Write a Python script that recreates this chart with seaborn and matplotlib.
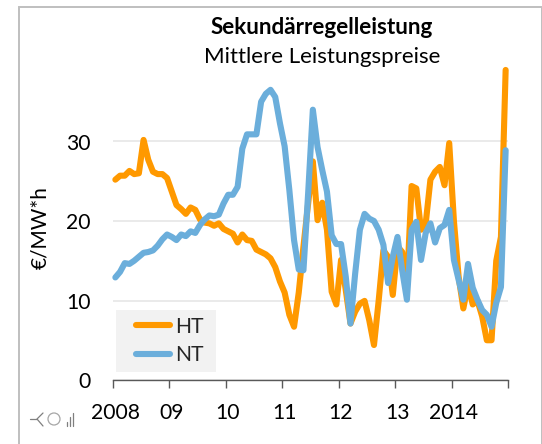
# -*- coding: utf-8 -*-
import numpy as np
import pandas as pd
import seaborn as sns
import matplotlib
matplotlib.use('Agg')
import matplotlib.pyplot as plt
from matplotlib.lines import Line2D
from matplotlib.patches import Circle, Rectangle
from matplotlib.transforms import ScaledTranslation

# Monatswerte 2008-2014
ht = [25.2, 25.7, 25.7, 26.3, 25.9, 26.0, 30.2, 27.7, 26.2, 25.9, 25.9, 25.4,
      23.7, 22.0, 21.5, 20.9, 21.7, 21.4, 20.2, 19.8, 19.7, 19.4, 19.7, 19.0,
      18.7, 18.4, 17.3, 18.3, 17.6, 17.5, 16.4, 16.1, 15.8, 15.3, 14.2, 12.4,
      11.0, 8.2, 6.7, 11.0, 16.8, 22.2, 27.5, 20.1, 22.3, 18.9, 11.1, 9.5,
      15.1, 11.3, 7.1, 8.6, 9.6, 9.95, 7.5, 4.4, 10.0, 16.3, 15.5, 10.7,
      16.8, 16.1, 11.7, 24.4, 24.1, 18.9, 19.7, 25.2, 26.2, 26.8, 24.5, 29.8,
      20.0, 13.0, 9.0, 12.0, 9.5, 10.0, 8.0, 5.0, 5.0, 15.0, 18.0, 39.0]
nt = [12.9, 13.6, 14.7, 14.6, 15.0, 15.5, 16.0, 16.1, 16.3, 16.9, 17.7, 18.3,
      18.0, 17.6, 18.3, 18.1, 18.7, 18.5, 19.5, 20.2, 20.7, 20.6, 20.8, 22.2,
      23.3, 23.3, 24.3, 29.1, 30.9, 30.9, 30.9, 35.0, 36.0, 36.5, 35.6, 32.3,
      29.4, 23.9, 17.6, 13.9, 13.8, 23.5, 34.0, 29.3, 26.4, 23.7, 18.2, 17.1,
      17.1, 13.0, 7.1, 13.4, 18.9, 20.9, 20.3, 20.0, 18.9, 17.0, 12.2, 15.5,
      18.0, 13.8, 10.1, 18.9, 19.9, 15.1, 18.5, 19.7, 17.3, 19.1, 19.5, 21.4,
      15.1, 12.6, 10.1, 14.6, 11.6, 10.1, 8.8, 8.2, 6.7, 9.7, 11.7, 28.9]
jahre = ['2008', '09', '10', '11', '12', '13', '2014', '']
y_ticks = [0, 10, 20, 30]

W, H = 542, 444
FS = 15.2


def fx(px):
    return px / W


def fy(py):
    return 1 - py / H


sns.set_theme(style='white')
plt.rcParams['font.family'] = ['Lato', 'DejaVu Sans']

meses = np.arange(len(ht))
df = pd.DataFrame({'mes': np.concatenate([meses, meses]),
                   'valor': ht + nt,
                   'serie': ['HT'] * len(ht) + ['NT'] * len(nt)})

fig = plt.figure(figsize=(W / 100, H / 100), dpi=100, facecolor='white')
ax = fig.add_axes([fx(113), fy(380), 395 / W, 318 / H])
ax.patch.set_alpha(0)

sns.lineplot(data=df, x='mes', y='valor', hue='serie', ax=ax, sort=False,
             palette={'HT': '#FF9900', 'NT': '#6BAEDB'}, linewidth=4.4,
             solid_capstyle='round', solid_joinstyle='round', clip_on=False)

ax.set_xlim(-0.5, 83.5)
ax.set_ylim(0, 40)
ax.set_xlabel('')
ax.set_ylabel('')

# Achsen
for s in ['top', 'right', 'left']:
    ax.spines[s].set_visible(False)
ax.spines['bottom'].set_color('#595959')
ax.spines['bottom'].set_linewidth(1)
ax.set_yticks(y_ticks)
ax.tick_params(axis='y', length=0, labelsize=FS, labelcolor='black', pad=16)
ax.grid(axis='y', color='#E6E6E6', linewidth=1.2)
ax.set_axisbelow(True)

x_ticks = np.arange(len(jahre)) * 12 - 0.5
ax.set_xticks(x_ticks)
ax.set_xticklabels(jahre)
ax.tick_params(axis='x', bottom=True, length=5.5, width=1, color='#595959',
               labelsize=FS, labelcolor='black', pad=11)
versatz = ScaledTranslation(2 / 100, 0, fig.dpi_scale_trans)
for lab in ax.get_xticklabels():
    lab.set_transform(lab.get_transform() + versatz)

# Legende: grauer Kasten und Eintraege ohne Rahmen
ax.add_patch(Rectangle((fx(116), fy(372)), 100 / W, 62 / H, facecolor='#F2F2F2',
                       edgecolor='none', transform=fig.transFigure, zorder=1.5))
ax.legend(loc='center left', bbox_to_anchor=(fx(136), fy(341)),
          bbox_transform=fig.transFigure, frameon=False, fontsize=FS,
          handlelength=1.6, handletextpad=0.25, labelspacing=0.4,
          borderpad=0, borderaxespad=0, title=None)

fig.text(fx(322), fy(27), 'Sekundärregelleistung', ha='center', va='center',
         fontsize=16.2, fontweight='bold', color='black')
fig.text(fx(322), fy(57), 'Mittlere Leistungspreise', ha='center', va='center',
         fontsize=16, color='black')
fig.text(fx(40), fy(228), '€/MW*h', rotation=90, ha='center', va='center',
         fontsize=15, color='black')

# Rahmen
fig.add_artist(Rectangle((fx(18.5), fy(470)), 523 / W, 462.5 / H, fill=False,
                         edgecolor='#BFBFBF', linewidth=1.4,
                         transform=fig.transFigure))

# kleines Symbol unten links
gris = '#7F7F7F'
for xs, ys in [([30, 37], [419, 419]), ([43, 37, 43], [413, 419, 426]),
               ([66.7, 66.7], [422, 426]), ([70, 70], [417, 426]),
               ([73.3, 73.3], [413, 426])]:
    fig.add_artist(Line2D([fx(v) for v in xs], [fy(v) for v in ys], color=gris,
                          linewidth=0.9, transform=fig.transFigure))
fig.add_artist(Circle((54, H - 419), 6, fill=False, edgecolor='#A6A6A6',
                      linewidth=0.9, transform=None))

fig.savefig('out.png', dpi=100, facecolor='white')
